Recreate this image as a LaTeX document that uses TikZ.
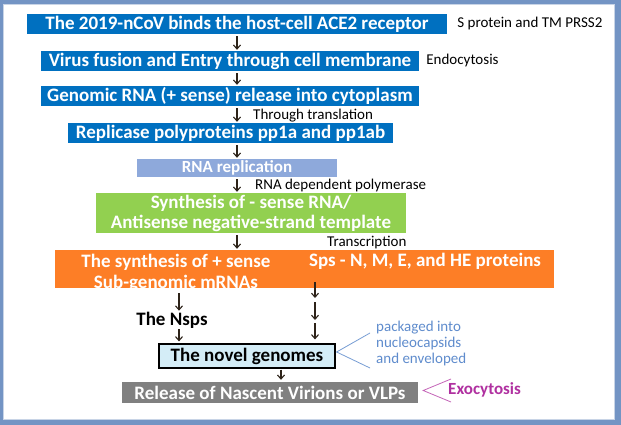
\documentclass[tikz,border=0pt]{standalone}
\usepackage{fontspec}
\setmainfont{Carlito}
\usetikzlibrary{arrows.meta, positioning}

\definecolor{framec}{RGB}{115,148,196}
\definecolor{frameln}{RGB}{200,212,230}
\definecolor{nblue}{RGB}{0,112,192}
\definecolor{lilac}{RGB}{142,169,219}
\definecolor{leaf}{RGB}{146,208,80}
\definecolor{tangerine}{RGB}{253,126,38}
\definecolor{slate}{RGB}{128,128,128}
\definecolor{ice}{RGB}{212,237,247}
\definecolor{packc}{RGB}{95,140,205}
\definecolor{exoc}{RGB}{176,48,160}
\definecolor{arrowc}{RGB}{45,35,25}

\begin{document}
\begin{tikzpicture}[x=1pt, y=-1pt, >={Straight Barb[length=4pt,width=7pt]},
  box/.style={inner sep=0pt, text=white,
              font=\bfseries\fontsize{19}{20}\selectfont},
  note/.style={inner sep=0pt, font=\fontsize{15}{16}\selectfont},
  flow/.style={->, line width=1.1pt, draw=arrowc,
               shorten <=2pt, shorten >=1pt}]

  % frame
  \useasboundingbox (0,0) rectangle (621,425);
  \fill[framec] (0,0) rectangle (621,425);
  \fill[white] (3,4) rectangle (615,420);
  \draw[frameln, line width=1pt] (3.5,4.5) rectangle (614.5,419.5);

  % main chain
  \node[box, fill=nblue, minimum width=420pt, minimum height=20pt]
    (bind) at (237,24) {The 2019-nCoV binds the host-cell ACE2 receptor};
  \node[note, right=10pt of bind] (spike) {S protein and TM PRSS2};

  \node[box, fill=nblue, minimum width=378pt, minimum height=20pt]
    (fusion) at (230,61) {Virus fusion and Entry through cell membrane};
  \node[note, right=7pt of fusion] (endo) {Endocytosis};

  \node[box, fill=nblue, minimum width=378pt, minimum height=20pt]
    (genome) at (230,96) {Genomic RNA (+ sense) release into cytoplasm};
  \node[note, anchor=west] (transl) at (253,116) {Through translation};

  \node[box, fill=nblue, minimum width=325pt, minimum height=20pt]
    (replicase) at (230.5,133) {Replicase polyproteins pp1a and pp1ab};

  \node[box, fill=lilac, minimum width=200pt, minimum height=18pt,
        font=\bfseries\fontsize{17}{18}\selectfont]
    (replic) at (237,168) {RNA replication};
  \node[note, anchor=west] (rdrp) at (255,186) {RNA dependent polymerase};

  \node[box, fill=leaf, minimum width=310pt, minimum height=40pt,
        align=center]
    (antisense) at (251,213) {Synthesis of - sense RNA/\\Antisense negative-strand template};
  \node[note, anchor=west] (transcr) at (327,243) {Transcription};

  \node[fill=tangerine, minimum width=499pt, minimum height=38pt,
        inner sep=0pt] (subgen) at (304.5,269) {};
  \node[box, align=center, font=\bfseries\fontsize{19}{21}\selectfont]
    (plus) at (176,273) {The synthesis of + sense\\Sub-genomic mRNAs};
  \node[box] (sps) at (425,261) {Sps - N, M, E, and HE proteins};

  \node[box, text=black] (nsps) at (172,320) {The Nsps};

  \node[box, text=black, draw=black, line width=1.2pt, fill=ice,
        minimum width=176pt, minimum height=24pt]
    (novel) at (247,356) {The novel genomes};
  \node[note, text=packc, align=left, anchor=west]
    (pack) at (376,343) {packaged into\\nucleocapsids\\and enveloped};

  \node[box, fill=slate, minimum width=296pt, minimum height=21pt]
    (release) at (270,392.5) {Release of Nascent Virions or VLPs};
  \node[inner sep=0pt, anchor=west, text=exoc,
        font=\bfseries\fontsize{17}{18}\selectfont]
    (exo) at (448,390) {Exocytosis};

  % connectors
  \draw[flow] (bind.south) -- (bind.south |- fusion.north);
  \draw[flow] (bind.south |- fusion.south) -- (bind.south |- genome.north);
  \draw[flow] (bind.south |- genome.south) -- (bind.south |- replicase.north);
  \draw[flow] (bind.south |- replicase.south) -- (replic.north);
  \draw[flow] (replic.south) -- (replic.south |- antisense.north);
  \draw[flow] (replic.south |- antisense.south) -- (replic.south |- subgen.north);

  \draw[flow, shorten <=5pt] ([xshift=7pt]nsps.north |- subgen.south)
    -- ([xshift=7pt]nsps.north);
  \draw[flow, shorten <=1pt, shorten >=2pt] ([xshift=7pt]nsps.south)
    -- ([xshift=7pt]nsps.south |- novel.north);

  \coordinate (r0) at (315,282);
  \coordinate (r1) at (315,302);
  \coordinate (r2) at (315,323);
  \draw[flow, shorten <=0pt, shorten >=4pt] (r0) -- (r1);
  \draw[flow, shorten <=0pt, shorten >=3pt] (r1) -- (r2);
  \draw[flow, shorten <=0pt, shorten >=4pt] (r2) -- (r2 |- novel.north);

  \draw[flow, shorten <=1pt, shorten >=2pt] ([xshift=11pt]release.north |- novel.south)
    -- ([xshift=11pt]release.north);

  % brackets
  \coordinate (packtop) at (370,333);
  \coordinate (packbot) at (370,368);
  \draw[packc!85!white, line width=0.8pt]
    (packtop) -- ([xshift=1pt, yshift=4pt]novel.east) -- (packbot);
  \coordinate (exotop) at (451,379);
  \coordinate (exobot) at (451,402);
  \draw[exoc!75!white, line width=0.8pt]
    (exotop) -- ([xshift=5pt, yshift=2pt]release.east) -- (exobot);
\end{tikzpicture}
\end{document}
